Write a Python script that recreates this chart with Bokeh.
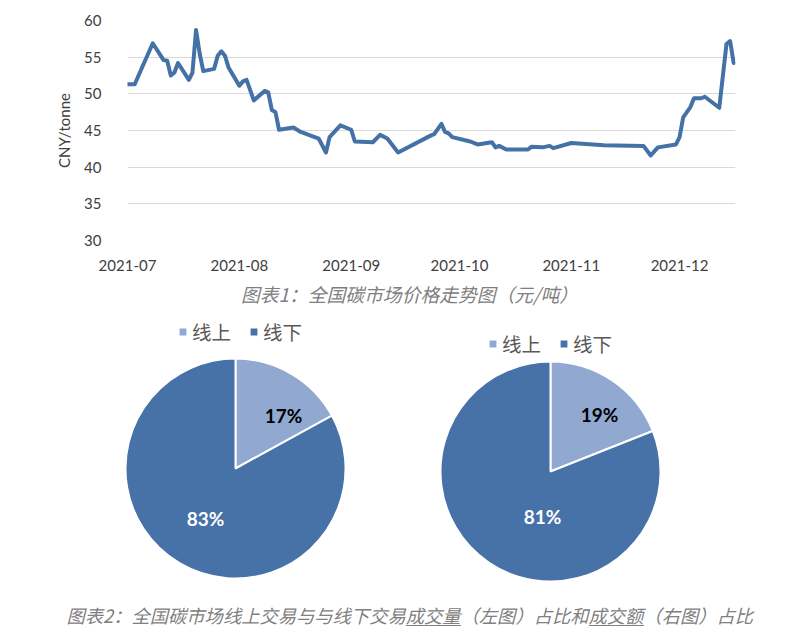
import math
import pandas as pd
from bokeh.plotting import figure
from bokeh.models import (Range1d, FixedTicker, DatetimeTickFormatter, Legend,
                          LegendItem, ColumnDataSource, Label)
from bokeh.embed import file_html
from bokeh.resources import INLINE
from bokeh.core.properties import value

# ---------------- data ----------------
dates = ["2021-07-01", "2021-07-03", "2021-07-08", "2021-07-11", "2021-07-12",
         "2021-07-13", "2021-07-14", "2021-07-15", "2021-07-18", "2021-07-19",
         "2021-07-20", "2021-07-21", "2021-07-22", "2021-07-25", "2021-07-26",
         "2021-07-27", "2021-07-28", "2021-07-29", "2021-08-01", "2021-08-02",
         "2021-08-03", "2021-08-05", "2021-08-08", "2021-08-09", "2021-08-10",
         "2021-08-11", "2021-08-12", "2021-08-16", "2021-08-18", "2021-08-23",
         "2021-08-25", "2021-08-26", "2021-08-29", "2021-09-01", "2021-09-02",
         "2021-09-07", "2021-09-09", "2021-09-11", "2021-09-14", "2021-09-23",
         "2021-09-24", "2021-09-26", "2021-09-27", "2021-09-28", "2021-09-29",
         "2021-10-04", "2021-10-06", "2021-10-10", "2021-10-11", "2021-10-12",
         "2021-10-14", "2021-10-20", "2021-10-21", "2021-10-24", "2021-10-26",
         "2021-10-27", "2021-11-01", "2021-11-04", "2021-11-10", "2021-11-21",
         "2021-11-23", "2021-11-25", "2021-11-30", "2021-12-01", "2021-12-02",
         "2021-12-04", "2021-12-05", "2021-12-07", "2021-12-08", "2021-12-12",
         "2021-12-14", "2021-12-15", "2021-12-16"]
prices = [51.3, 51.3, 56.9, 54.6, 54.5,
          52.5, 52.9, 54.2, 51.9, 52.9,
          58.7, 55.5, 53.1, 53.4, 55.2,
          55.8, 55.2, 53.6, 51.1, 51.7,
          51.9, 49.1, 50.4, 50.2, 47.8,
          47.5, 45.1, 45.4, 44.8, 43.9,
          42.0, 44.1, 45.7, 45.1, 43.5,
          43.4, 44.4, 43.9, 42.0, 44.3,
          44.5, 45.9, 44.8, 44.6, 44.1,
          43.5, 43.1, 43.4, 42.7, 42.9,
          42.4, 42.4, 42.8, 42.7, 42.9,
          42.6, 43.3, 43.2, 43.0, 42.9,
          41.6, 42.7, 43.1, 44.1, 46.8,
          48.2, 49.4, 49.4, 49.6, 48.1,
          56.8, 57.2, 54.2]
y_ticks = [30, 35, 40, 45, 50, 55, 60]
month_ticks = ["2021-07-01", "2021-08-01", "2021-09-01", "2021-10-01",
               "2021-11-01", "2021-12-01"]
y_label = "CNY/tonne"

pie_labels = ["线上", "线下"]
volume_share = [17, 83]     # 成交量
turnover_share = [19, 81]   # 成交额

caption1 = "图表1：全国碳市场价格走势图（元/吨）"
caption2 = "图表2：全国碳市场线上交易与与线下交易成交量（左图）占比和成交额（右图）占比"

# ---------------- style ----------------
LINE_COLOR = "#4471A6"
PIE_COLORS = ["#91A9D0", "#4672A7"]
TICK_COLOR = "#404040"
CAPTION_COLOR = "#808080"
CJK = "Noto Sans CJK SC"

# ---------------- line chart ----------------
x = pd.to_datetime(dates)
p1 = figure(width=800, height=280, x_axis_type="datetime",
            output_backend="svg", toolbar_location=None,
            x_range=Range1d(pd.Timestamp("2021-07-01"), pd.Timestamp("2021-12-16 12:00")),
            y_range=Range1d(30, 60),
            min_border_left=127, min_border_right=65,
            min_border_top=20, min_border_bottom=40)
p1.line(x, prices, line_width=4, line_color=LINE_COLOR, line_join="round",
        line_cap="round")

p1.xaxis.ticker = FixedTicker(ticks=[pd.Timestamp(t).value // 10**6 for t in month_ticks])
p1.xaxis.formatter = DatetimeTickFormatter(days="%Y-%m", months="%Y-%m",
                                           years="%Y-%m", hours="%Y-%m")
p1.yaxis.ticker = FixedTicker(ticks=y_ticks)
p1.ygrid.ticker = FixedTicker(ticks=y_ticks)
for ax in (p1.xaxis, p1.yaxis):
    ax.axis_line_color = None
    ax.major_tick_line_color = None
    ax.minor_tick_line_color = None
    ax.major_label_text_font = "Lato"
    ax.major_label_text_font_size = "15px"
    ax.major_label_text_color = TICK_COLOR
p1.xaxis.major_label_standoff = 13
p1.yaxis.major_label_standoff = 20
p1.yaxis.axis_label = y_label
p1.yaxis.axis_label_text_font = "Lato"
p1.yaxis.axis_label_text_font_size = "15px"
p1.yaxis.axis_label_text_font_style = "normal"
p1.yaxis.axis_label_text_color = TICK_COLOR
p1.yaxis.axis_label_standoff = 8
p1.xgrid.grid_line_color = None
p1.ygrid.grid_line_color = "#D9D9D9"
p1.ygrid.grid_line_width = 1
p1.outline_line_color = None

# ---------------- pies + captions ----------------
W2, H2 = 800, 351
p2 = figure(width=W2, height=H2, output_backend="svg", toolbar_location=None,
            x_range=Range1d(0, W2), y_range=Range1d(0, H2),
            min_border_left=0, min_border_right=0, min_border_top=0,
            min_border_bottom=0)
p2.axis.visible = False
p2.grid.visible = False
p2.outline_line_color = None

R = 110


def add_pie(cx, cy, shares, offsets, legend_loc):
    total = float(sum(shares))
    starts, ends, acc = [], [], 0.0
    for s in shares:
        starts.append(math.pi / 2 - 2 * math.pi * acc / total)
        acc += s
        ends.append(math.pi / 2 - 2 * math.pi * acc / total)
    src = ColumnDataSource(dict(start=starts, end=ends, color=PIE_COLORS,
                                label=pie_labels))
    r = p2.wedge(x=cx, y=cy, radius=R, start_angle="start", end_angle="end",
                 direction="clock", fill_color="color", line_color="white",
                 line_width=2, source=src)
    p2.text(x=[cx + dx for dx, dy in offsets], y=[cy + dy for dx, dy in offsets],
            text=[f"{s}%" for s in shares], text_color=["#000000", "#FFFFFF"],
            text_font=value("Lato"), text_font_style="bold",
            text_font_size="19px", text_align="center", text_baseline="middle")
    leg = Legend(items=[LegendItem(label=pie_labels[i], renderers=[r], index=i)
                        for i in range(len(pie_labels))],
                 location=legend_loc, orientation="horizontal",
                 label_text_font=CJK, label_text_font_size="19.5px",
                 label_text_color="#595959", glyph_width=11, glyph_height=11,
                 label_standoff=4, spacing=17, padding=0, margin=0,
                 border_line_color=None, background_fill_alpha=0,
                 label_height=20)
    p2.add_layout(leg)


add_pie(235, 163, volume_share, [(48, 53), (-30, -50)], (177, 285))
add_pie(550, 160, turnover_share, [(49, 57), (-8, -45)], (487, 273))

p2.add_layout(Label(x=409, y=338, text=caption1, text_align="center",
                    text_baseline="middle", text_font=CJK,
                    text_font_style="italic", text_font_size="18.8px",
                    text_color=CAPTION_COLOR))
CAP_FS = 18.3
CAP2_X = 66
p2.add_layout(Label(x=CAP2_X, y=17, text=caption2, text_align="left",
                    text_baseline="middle", text_font=CJK,
                    text_font_style="italic", text_font_size=f"{CAP_FS}px",
                    text_color=CAPTION_COLOR))
# underline 成交量 and 成交额 (positions in em from the caption start)
ul_start = [18.55, 28.55]
p2.segment(x0=[CAP2_X + s * CAP_FS for s in ul_start], y0=[6, 6],
           x1=[CAP2_X + (s + 3) * CAP_FS for s in ul_start], y1=[6, 6],
           line_color=CAPTION_COLOR, line_width=1)

# two independent roots, stacked (no frame alignment between them)
open("out.html", "w").write(file_html([p1, p2], INLINE))
